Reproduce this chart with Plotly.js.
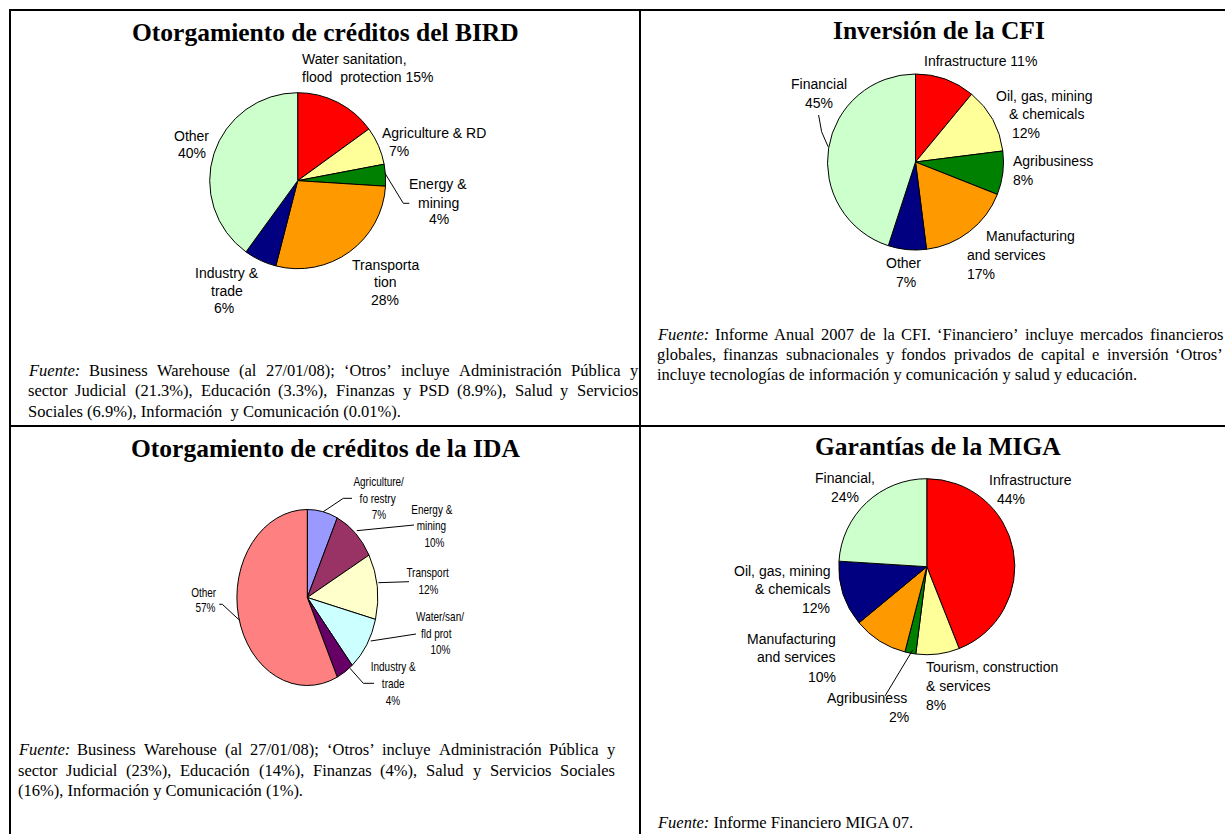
<!DOCTYPE html>
<html><head><meta charset="utf-8">
<script src="https://cdn.plot.ly/plotly-3.0.1.min.js"></script>
<style>html,body{margin:0;padding:0;background:#fff;} #chart{width:1225px;height:834px;}</style>
</head><body><div id="chart"></div>
<script>
// ---------------- data ----------------
const birdTitle = "Otorgamiento de créditos del BIRD";
const birdCategories = ["Water sanitation, flood protection", "Agriculture & RD", "Energy & mining", "Transportation", "Industry & trade", "Other"];
const birdValues = [15, 7, 4, 28, 6, 40];

const cfiTitle = "Inversión de la CFI";
const cfiCategories = ["Infrastructure", "Oil, gas, mining & chemicals", "Agribusiness", "Manufacturing and services", "Other", "Financial"];
const cfiValues = [11, 12, 8, 17, 7, 45];

const idaTitle = "Otorgamiento de créditos de la IDA";
const idaCategories = ["Agriculture/forestry", "Energy & mining", "Transport", "Water/san/fld prot", "Industry & trade", "Other"];
const idaValues = [7, 10, 12, 10, 4, 57];

const migaTitle = "Garantías de la MIGA";
const migaCategories = ["Infrastructure", "Tourism, construction & services", "Agribusiness", "Manufacturing and services", "Oil, gas, mining & chemicals", "Financial"];
const migaValues = [44, 8, 2, 10, 12, 24];

// label text lines ({p} = value as percent)
const birdLabelLines = [["Water sanitation,", "flood  protection {p}"], ["Agriculture & RD", "{p}"], ["Energy &", "mining", "{p}"], ["Transporta", "tion", "{p}"], ["Industry &", "trade", "{p}"], ["Other", "{p}"]];
const cfiLabelLines = [["Infrastructure {p}"], ["Oil, gas, mining", "& chemicals", "{p}"], ["Agribusiness", "{p}"], ["Manufacturing", "and services", "{p}"], ["Other", "{p}"], ["Financial", "{p}"]];
const idaLabelLines = [["Agriculture/", "fo restry", "{p}"], ["Energy &", "mining", "{p}"], ["Transport", "{p}"], ["Water/san/", "fld prot", "{p}"], ["Industry &", "trade", "{p}"], ["Other", "{p}"]];
const migaLabelLines = [["Infrastructure", "{p}"], ["Tourism, construction", "& services", "{p}"], ["Agribusiness", "{p}"], ["Manufacturing", "and services", "{p}"], ["Oil, gas, mining", "& chemicals", "{p}"], ["Financial,", "{p}"]];

const birdNotes = ["Fuente: Business Warehouse (al 27/01/08); ‘Otros’ incluye Administración Pública y",
  "sector Judicial (21.3%), Educación (3.3%), Finanzas y PSD (8.9%), Salud y Servicios",
  "Sociales (6.9%), Información  y Comunicación (0.01%)."];
const cfiNotes = ["Fuente: Informe Anual 2007 de la CFI. ‘Financiero’ incluye mercados financieros",
  "globales, finanzas subnacionales y fondos privados de capital e inversión ‘Otros’",
  "incluye tecnologías de información y comunicación y salud y educación."];
const idaNotes = ["Fuente: Business Warehouse (al 27/01/08); ‘Otros’ incluye Administración Pública y",
  "sector Judicial (23%), Educación (14%), Finanzas (4%), Salud y Servicios Sociales",
  "(16%), Información y Comunicación (1%)."];
const migaNotes = ["Fuente: Informe Financiero MIGA 07."];

// ---------------- styles / layout positions ----------------
const W = 1225, H = 834;
const birdColors = ["#FF0000", "#FFFF99", "#008000", "#FF9900", "#000080", "#CCFFCC"];
const cfiColors = ["#FF0000", "#FFFF99", "#008000", "#FF9900", "#000080", "#CCFFCC"];
const migaColors = ["#FF0000", "#FFFF99", "#008000", "#FF9900", "#000080", "#CCFFCC"];
const idaColors = ["#9999FF", "#993366", "#FFFFCC", "#CCFFFF", "#660066", "#FF8080"];

const SANS = '"Liberation Sans", Arial, Helvetica, sans-serif';
const SERIF = '"Liberation Serif", "Times New Roman", Times, serif';
const FS = 16.5;
const NARROW_SCALE = 0.8;

// pie geometry (pixel centre, radius, horizontal squash)
const birdGeo = {cx: 297.7, cy: 180.7, r: 88, sx: 1};
const cfiGeo = {cx: 915.5, cy: 162, r: 88, sx: 1};
const idaGeo = {cx: 307.3, cy: 597.5, r: 88, sx: 0.80};
const migaGeo = {cx: 926.8, cy: 566.7, r: 88, sx: 1};

// label positions: [x, y, anchor]
const birdLabelPos = [[[300.7, 59.3, 'left'], [300.7, 77.3, 'left']], [[380.7, 132.7, 'left'], [399.3, 150.7, 'center']],
  [[438.3, 184, 'center'], [438.3, 202.7, 'center'], [439.3, 219.3, 'center']],
  [[385, 265, 'center'], [385, 282.3, 'center'], [385, 300, 'center']],
  [[226.7, 273.3, 'center'], [226.7, 290.7, 'center'], [224.3, 308.3, 'center']],
  [[191.7, 136, 'center'], [191.7, 152.7, 'center']]];
const cfiLabelPos = [[[923, 61, 'left']], [[1043.7, 95.7, 'center'], [1046.3, 114.3, 'center'], [1025.5, 133.3, 'center']],
  [[1012, 161.3, 'left'], [1012, 180.3, 'left']],
  [[1030.4, 236.3, 'center'], [1006.9, 255.3, 'center'], [981, 274.3, 'center']],
  [[903.2, 263.3, 'center'], [906, 282.3, 'center']], [[819, 84, 'center'], [819, 103.3, 'center']]];
const idaLabelPos = [[[378.8, 481.7, 'center'], [377.6, 499, 'center'], [378.8, 515, 'center']],
  [[431.7, 510, 'center'], [431.7, 526, 'center'], [434, 542.7, 'center']],
  [[428.3, 573.3, 'center'], [428.3, 590, 'center']],
  [[440, 616.7, 'center'], [436, 634, 'center'], [440.7, 650, 'center']],
  [[393.3, 667.3, 'center'], [393.3, 684, 'center'], [393.3, 700.7, 'center']],
  [[203.3, 592.7, 'center'], [205, 608.3, 'center']]];
const migaLabelPos = [[[1030.4, 480, 'center'], [1011.4, 499, 'center']],
  [[925.3, 667.3, 'left'], [925.3, 686, 'left'], [925.3, 705, 'left']],
  [[867.2, 698.3, 'center'], [898.7, 716.7, 'center']],
  [[837, 639.3, 'right'], [837, 657.3, 'right'], [837, 676.7, 'right']],
  [[831, 570.7, 'right'], [831, 589.3, 'right'], [831, 608.3, 'right']],
  [[845.2, 478.3, 'center'], [845.2, 497.3, 'center']]];

// leader lines (pixel polylines)
const leaderLines = [
  [[385, 173.3], [403.3, 203.3], [409.3, 203.3]],
  [[818.6, 115], [821.6, 131.7], [828.1, 146.7]],
  [[323.3, 511.7], [343.3, 498.3], [352, 498.3]],
  [[356.7, 530.7], [414, 525]],
  [[378.3, 582.7], [409, 581.7]],
  [[370.7, 641], [416, 634]],
  [[350, 668.3], [363.3, 683.3], [374, 683.3]],
  [[219.3, 604.3], [222.3, 604.3], [240, 620.7]],
  [[912.7, 650], [885, 696]]
];

const titlePos = [[325.5, 32], [939.3, 30], [325.3, 448.5], [938.4, 446.5]];
const notePos = {bird: [27, 637, 370, 20.5], cfi: [656, 1222, 334, 20], ida: [17, 614, 749.5, 20.5], miga: [656, 1222, 822.5, 20]};

// ---------------- build ----------------
function pieTrace(labels, values, colors, g) {
  return {
    type: 'pie', labels: labels, values: values, sort: false, direction: 'clockwise', rotation: 0,
    marker: {colors: colors, line: {color: '#000000', width: 1}},
    textinfo: 'none', hoverinfo: 'skip', showlegend: false,
    domain: {x: [(g.cx - g.r) / W, (g.cx + g.r) / W], y: [1 - (g.cy + g.r) / H, 1 - (g.cy - g.r) / H]}
  };
}

const data = [
  pieTrace(birdCategories, birdValues, birdColors, birdGeo),
  pieTrace(cfiCategories, cfiValues, cfiColors, cfiGeo),
  pieTrace(idaCategories, idaValues, idaColors, idaGeo),
  pieTrace(migaCategories, migaValues, migaColors, migaGeo),
  {type: 'scatter', x: [], y: [], mode: 'none', showlegend: false, hoverinfo: 'skip'}
];

const annotations = [];
const narrowIdx = [];
function ann(x, y, text, anchor, font) {
  annotations.push({x: x, y: y, xref: 'x', yref: 'y', text: text, showarrow: false,
    xanchor: anchor, yanchor: 'middle', borderpad: 0, font: font});
  return annotations.length - 1;
}

function addLabels(lines, pos, values, size, narrow) {
  lines.forEach(function (ls, i) {
    ls.forEach(function (t, j) {
      const p = pos[i][j];
      const k = ann(p[0], p[1], t.replace('{p}', values[i] + '%'), p[2], {family: SANS, size: size, color: '#000'});
      if (narrow) narrowIdx.push(k);
    });
  });
}
addLabels(birdLabelLines, birdLabelPos, birdValues, 14, false);
addLabels(cfiLabelLines, cfiLabelPos, cfiValues, 14, false);
addLabels(idaLabelLines, idaLabelPos, idaValues, 12.5, true);
addLabels(migaLabelLines, migaLabelPos, migaValues, 14, false);

[birdTitle, cfiTitle, idaTitle, migaTitle].forEach(function (t, i) {
  ann(titlePos[i][0], titlePos[i][1], t, 'center', {family: SERIF, size: 25.5, color: '#000', weight: 'bold'});
});

const ctx = document.createElement('canvas').getContext('2d');
function tw(t, italic) { ctx.font = (italic ? 'italic ' : '') + FS + 'px ' + SERIF; return ctx.measureText(t).width; }
function addNotes(lines, np, justifyCount) {
  const x0 = np[0], x1 = np[1], y0 = np[2], dy = np[3];
  lines.forEach(function (line, i) {
    const y = y0 + i * dy;
    const font = {family: SERIF, size: FS, color: '#000'};
    if (i < justifyCount) {
      const words = line.split(/\s+/);
      const it = words.map(function (w, j) { return i === 0 && j === 0 && w === 'Fuente:'; });
      const widths = words.map(function (w, j) { return tw(w, it[j]); });
      const total = widths.reduce(function (a, b) { return a + b; }, 0);
      const gap = (x1 - x0 - total) / (words.length - 1);
      let x = x0;
      words.forEach(function (w, j) {
        ann(x, y, it[j] ? '<i>' + w + '</i>' : w, 'left', font);
        x += widths[j] + gap;
      });
    } else {
      ann(x0, y, line.replace(/^Fuente:/, '<i>Fuente:</i>'), 'left', font);
    }
  });
}
addNotes(birdNotes, notePos.bird, 2);
addNotes(cfiNotes, notePos.cfi, 2);
addNotes(idaNotes, notePos.ida, 2);
addNotes(migaNotes, notePos.miga, 0);

const shapes = [];
const border = {color: '#000000', width: 2};
[[10, 10, W, 10], [10, 426, W, 426], [10, 9, 10, H], [640, 9, 640, H]].forEach(function (l) {
  shapes.push({type: 'line', xref: 'x', yref: 'y', x0: l[0], y0: l[1], x1: l[2], y1: l[3], line: border});
});
leaderLines.forEach(function (pl) {
  const d = pl.map(function (p, k) { return (k ? 'L' : 'M') + p[0] + ',' + p[1]; }).join(' ');
  shapes.push({type: 'path', xref: 'x', yref: 'y', path: d, line: {color: '#000000', width: 1}});
});

const layout = {
  width: W, height: H, margin: {l: 0, r: 0, t: 0, b: 0, pad: 0},
  paper_bgcolor: '#ffffff', plot_bgcolor: 'rgba(0,0,0,0)', showlegend: false,
  xaxis: {range: [0, W], visible: false, fixedrange: true, domain: [0, 1]},
  yaxis: {range: [H, 0], visible: false, fixedrange: true, domain: [0, 1]},
  annotations: annotations, shapes: shapes
};

const gd = document.getElementById('chart');
Plotly.newPlot(gd, data, layout, {staticPlot: true, displayModeBar: false}).then(function () {
  // squash the IDA pie horizontally (reference pie is an ellipse)
  const groups = gd.querySelectorAll('.pielayer .trace');
  [birdGeo, cfiGeo, idaGeo, migaGeo].forEach(function (g, i) {
    if (g.sx !== 1 && groups[i]) {
      groups[i].setAttribute('transform', 'translate(' + g.cx + ',0) scale(' + g.sx + ',1) translate(' + (-g.cx) + ',0)');
      groups[i].querySelectorAll('path').forEach(function (p) { p.style.vectorEffect = 'non-scaling-stroke'; });
    }
  });
  // condensed look for the IDA labels
  narrowIdx.forEach(function (k) {
    const g = gd.querySelector('.annotation[data-index="' + k + '"] text');
    if (!g) return;
    const bb = g.getBBox();
    const cx = bb.x + bb.width / 2;
    g.setAttribute('transform', 'translate(' + cx + ',0) scale(' + NARROW_SCALE + ',1) translate(' + (-cx) + ',0)');
  });
});
</script></body></html>
